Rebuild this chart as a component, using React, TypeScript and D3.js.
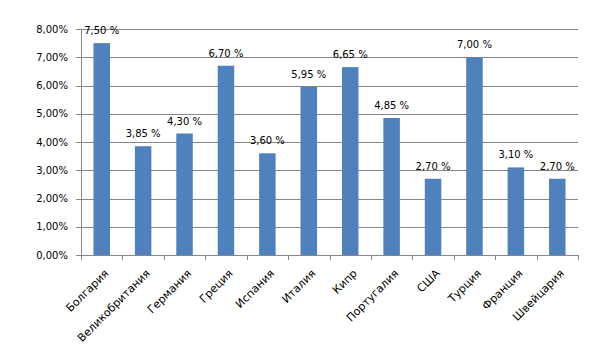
import React, { useEffect, useRef } from "react";
import * as d3 from "d3";

const countries = [
  "Болгария",
  "Великобритания",
  "Германия",
  "Греция",
  "Испания",
  "Италия",
  "Кипр",
  "Португалия",
  "США",
  "Турция",
  "Франция",
  "Швейцария",
];

const rates = [7.5, 3.85, 4.3, 6.7, 3.6, 5.95, 6.65, 4.85, 2.7, 7.0, 3.1, 2.7];

const yTicks = [0, 1, 2, 3, 4, 5, 6, 7, 8];

const width = 616;
const height = 352;

export default function App() {
  const ref = useRef<SVGSVGElement>(null);

  useEffect(() => {
    if (!ref.current) return;
    const svg = d3.select(ref.current);
    svg.selectAll("*").remove();

    const left = 81;
    const right = 578;
    const top = 29;
    const bottom = 255;
    const font = "'DejaVu Sans', Verdana, sans-serif";
    const gridColor = "#878787";

    const x = d3.scaleBand<string>().domain(countries).range([left, right]).paddingInner(0).paddingOuter(0);
    const y = d3.scaleLinear().domain([0, 8]).range([bottom, top]);
    const barW = 16.5;

    const fmt = (v: number) => v.toFixed(2).replace(".", ",");

    // gridlines
    svg
      .append("g")
      .selectAll("line")
      .data(yTicks)
      .join("line")
      .attr("x1", left - 5)
      .attr("x2", right)
      .attr("y1", (d) => Math.round(y(d)) + 0.5)
      .attr("y2", (d) => Math.round(y(d)) + 0.5)
      .attr("stroke", gridColor)
      .attr("stroke-width", 1);

    // y axis line
    svg
      .append("line")
      .attr("x1", left + 0.5)
      .attr("x2", left + 0.5)
      .attr("y1", top)
      .attr("y2", bottom + 5)
      .attr("stroke", gridColor);

    // x ticks
    svg
      .append("g")
      .selectAll("line")
      .data(countries.map((c) => (x(c) as number) + x.bandwidth()).concat([left]))
      .join("line")
      .attr("x1", (d) => Math.round(d) + 0.5)
      .attr("x2", (d) => Math.round(d) + 0.5)
      .attr("y1", bottom)
      .attr("y2", bottom + 5)
      .attr("stroke", gridColor);

    // y labels
    svg
      .append("g")
      .selectAll("text")
      .data(yTicks)
      .join("text")
      .attr("x", left - 13)
      .attr("y", (d) => y(d) + 3.5)
      .attr("text-anchor", "end")
      .attr("font-family", font)
      .attr("font-size", 10)
      .attr("fill", "#000")
      .text((d) => `${fmt(d)}%`);

    // bars
    svg
      .append("g")
      .selectAll("rect")
      .data(rates)
      .join("rect")
      .attr("x", (d, i) => (x(countries[i]) as number) + x.bandwidth() / 2 - barW / 2)
      .attr("width", barW)
      .attr("y", (d) => y(d))
      .attr("height", (d) => y(0) - y(d))
      .attr("fill", "#4F81BD");

    // value labels
    svg
      .append("g")
      .selectAll("text")
      .data(rates)
      .join("text")
      .attr("x", (d, i) => (x(countries[i]) as number) + x.bandwidth() / 2)
      .attr("y", (d) => y(d) - 9)
      .attr("text-anchor", "middle")
      .attr("font-family", font)
      .attr("font-size", 10)
      .attr("fill", "#000")
      .text((d) => `${fmt(d)} %`);

    // category labels
    svg
      .append("g")
      .selectAll("text")
      .data(countries)
      .join("text")
      .attr("transform", (d) => `translate(${(x(d) as number) + x.bandwidth() / 2 + 7.5},${bottom + 19}) rotate(-45)`)
      .attr("text-anchor", "end")
      .attr("font-family", font)
      .attr("font-size", 11)
      .attr("fill", "#000")
      .text((d) => d);
  }, []);

  return (
    <div style={{ position: "fixed", left: 0, top: 0, width, height, background: "#fff" }}>
      <svg ref={ref} width={width} height={height} style={{ display: "block" }} />
    </div>
  );
}
